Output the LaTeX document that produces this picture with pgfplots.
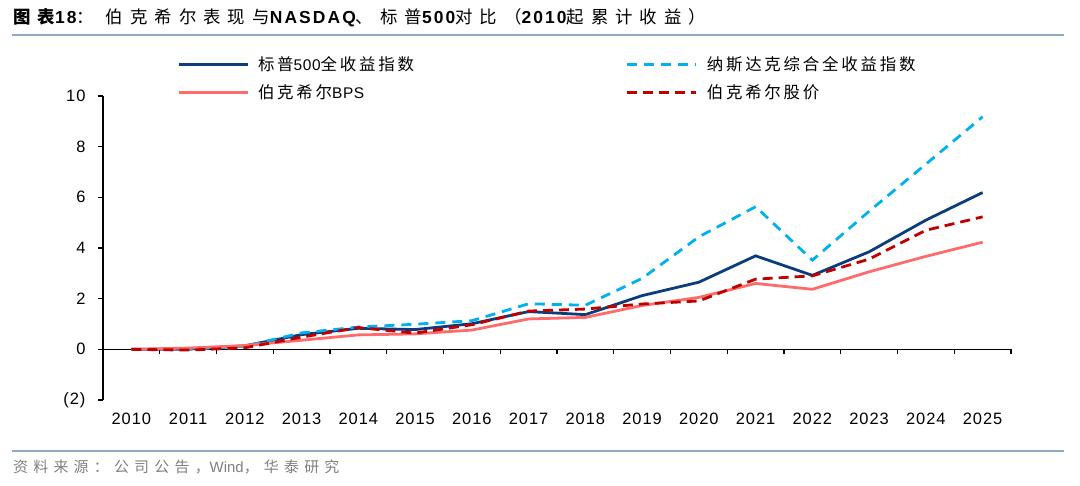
\documentclass[border=0pt]{standalone}
\usepackage{pgfplots}
\pgfplotsset{compat=1.18}
\usepackage{fontspec}
\setmainfont{Liberation Sans}
\newfontfamily\cjk{Noto Sans CJK SC}[LetterSpace=17]
\newfontfamily\leglat{Liberation Sans}[LetterSpace=4]
\newfontfamily\tcjk{Noto Sans CJK SC}[LetterSpace=40]
\newfontfamily\tlat{Liberation Sans}[LetterSpace=12]
\newfontfamily\cjks{Noto Sans CJK SC}[LetterSpace=35]
\newfontfamily\tickf{Liberation Sans}[LetterSpace=6]
\newcommand{\C}[1]{{\cjk #1}}
\newcommand{\LL}[1]{{\leglat\fontsize{15.5}{18}\selectfont #1}}
\newcommand{\TC}[1]{{\tcjk #1}}
\newcommand{\TL}[1]{{\tlat\bfseries #1}}
\newcommand{\Sx}[1]{{\cjks #1}}
\definecolor{spx}{HTML}{0B3C7D}
\definecolor{ndq}{HTML}{00B0F0}
\definecolor{bps}{HTML}{FF6B6B}
\definecolor{brk}{HTML}{C00000}
\definecolor{rulec}{HTML}{8EA8C6}
\definecolor{srcg}{HTML}{808080}

\pgfplotstableread{
x spx ndq bps brk
0  0.00 0.00 0.00  0.00
1  0.01 0.00 0.05 -0.03
2  0.14 0.12 0.15  0.06
3  0.58 0.65 0.36  0.48
4  0.83 0.88 0.57  0.86
5  0.78 0.99 0.61  0.64
6  1.01 1.13 0.76  0.97
7  1.49 1.80 1.20  1.51
8  1.37 1.74 1.26  1.59
9  2.12 2.80 1.73  1.79
10 2.65 4.44 2.05  1.91
11 3.69 5.63 2.60  2.77
12 2.92 3.52 2.37  2.90
13 3.85 5.45 3.06  3.56
14 5.10 7.31 3.67  4.70
15 6.19 9.18 4.23  5.23
}\datatable

\begin{document}
\begin{tikzpicture}
\path[use as bounding box] (0bp,0bp) rectangle (1080bp,486bp);
\node[anchor=west, inner sep=0pt] at (13bp,468bp) {\fontsize{17.5}{21}\selectfont {\tcjk\bfseries 图表}\TL{18}\TC{：}\hspace{12bp}\TC{伯克希尔表现与}\TL{NASDAQ}\TC{、标普}\TL{500}\TC{对比（}\TL{2010}\TC{起累计收益）}};
\draw[rulec, line width=2.5bp] (12bp,451bp) -- (1064bp,451bp);
\draw[rulec, line width=2.5bp] (12bp,35bp) -- (1064bp,35bp);
\node[anchor=west, inner sep=0pt, text=srcg] at (13bp,19bp) {\fontsize{15}{17}\selectfont \Sx{资料来源：公司公告，}Wind\Sx{，华泰研究}};
\begin{axis}[
  at={(103bp,86bp)}, anchor=south west,
  scale only axis, width=908bp, height=304bp,
  xmin=-0.5, xmax=15.5, ymin=-2, ymax=10,
  axis y line*=left, axis x line*=bottom,
  x axis line style={draw=none},
  y axis line style={line width=1.3bp},
  xtick={0,...,15},
  xticklabels={2010,2011,2012,2013,2014,2015,2016,2017,2018,2019,2020,2021,2022,2023,2024,2025},
  major x tick style={draw=none},
  ytick={-2,0,2,4,6,8,10},
  yticklabels={(2),0,2,4,6,8,10},
  ytick style={line width=1.3bp, black},
  tick align=outside, major tick length=5bp,
  tick label style={font=\tickf\fontsize{16.5}{18}\selectfont},
  xticklabel style={yshift=-5bp},
  yticklabel style={xshift=-9bp},
  clip=false,
  legend columns=2,
  legend style={draw=none, fill=none, inner sep=0pt, column sep=0pt, row sep=0pt,
    at={(axis description cs:0.0815,1.1513)}, anchor=north west,
    nodes={inner sep=0pt, minimum height=28bp, text width=368bp, align=left, anchor=west,
      font=\fontsize{16.5}{18}\selectfont}},
  legend image code/.code={\draw[#1] (0bp,0bp) -- (69bp,0bp); \path (78bp,0bp);},
]
\addplot[black, line width=1.3bp, forget plot] coordinates {(-0.5,0) (15.5,0)};
\pgfplotsinvokeforeach{0.5,1.5,...,15.5}{
  \draw[black, line width=1.3bp] (axis cs:#1,0) -- (axis cs:#1,-0.2);
}
\addplot[spx, line width=2.8bp] table[x=x, y=spx] {\datatable};
\addlegendentry{\C{标普}\LL{500}\C{全收益指数}}
\addplot[ndq, line width=2.8bp, dash pattern=on 10bp off 7bp] table[x=x, y=ndq] {\datatable};
\addlegendentry{\C{纳斯达克综合全收益指数}}
\addplot[bps, line width=2.8bp] table[x=x, y=bps] {\datatable};
\addlegendentry{\C{伯克希尔}\LL{BPS}}
\addplot[brk, line width=2.8bp, dash pattern=on 10bp off 6bp] table[x=x, y=brk] {\datatable};
\addlegendentry{\C{伯克希尔股价}}
\end{axis}
\end{tikzpicture}
\end{document}
